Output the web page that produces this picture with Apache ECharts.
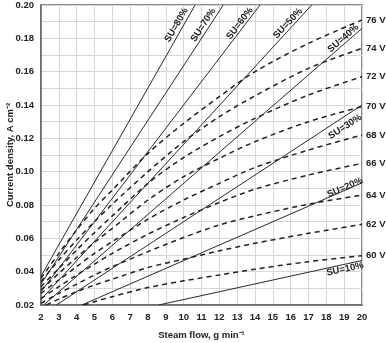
<!DOCTYPE html>
<html><head><meta charset="utf-8">
<script src="https://cdn.jsdelivr.net/npm/echarts@6/dist/echarts.min.js"></script>
<style>html,body{margin:0;padding:0;background:#fff}#c{width:386px;height:343px}</style>
</head><body><div id="c"></div>
<script>
// Steam utilisation lines (solid): [steam flow, current density]
const suNames = ['SU=10%','SU=20%','SU=30%','SU=40%','SU=50%','SU=60%','SU=70%','SU=80%'];
const su10 = [[8.6,0.020],[20,0.0467]];
const su20 = [[4.29,0.020],[20,0.0933]];
const su30 = [[2.86,0.020],[20,0.140]];
const su40 = [[2.15,0.020],[20,0.186]];
const su50 = [[2,0.0233],[17.18,0.200]];
const su60 = [[2,0.0280],[14.28,0.200]];
const su70 = [[2,0.0326],[12.22,0.200]];
const su80 = [[2,0.0373],[10.64,0.200]];
// label anchor points for SU lines
const suLabelPos = [[19.05,0.0415],[19.05,0.0905],[19.05,0.127],[18.95,0.180],[15.85,0.189],[13.15,0.189],[11.1,0.188],[9.6,0.188]];

// Constant voltage lines (dashed)
const vNames = ['60 V','62 V','64 V','66 V','68 V','70 V','72 V','74 V','76 V'];
const v60 = [[4.4,0.020],[5,0.022],[6,0.025],[8,0.0305],[10,0.0345],[12,0.038],[14,0.0415],[17,0.046],[20,0.0496]];
const v62 = [[2.3,0.020],[3,0.0235],[4,0.028],[5,0.032],[6,0.0355],[8,0.0425],[10,0.0475],[12,0.0525],[14,0.057],[17,0.063],[20,0.0684]];
const v64 = [[2,0.021],[3,0.027],[4,0.0325],[5,0.038],[6,0.043],[8,0.052],[10,0.0605],[12,0.068],[14,0.0735],[17,0.0805],[20,0.086]];
const v66 = [[2,0.024],[3,0.031],[4,0.038],[5,0.0445],[6,0.051],[8,0.0625],[10,0.0725],[12,0.0815],[14,0.0895],[17,0.098],[20,0.105]];
const v68 = [[2,0.027],[3,0.035],[4,0.043],[5,0.051],[6,0.058],[8,0.0715],[10,0.083],[12,0.093],[14,0.1025],[17,0.113],[20,0.122]];
const v70 = [[2,0.029],[3,0.039],[4,0.0485],[5,0.0575],[6,0.066],[8,0.083],[10,0.097],[12,0.108],[14,0.118],[17,0.130],[20,0.139]];
const v72 = [[2,0.031],[3,0.042],[4,0.053],[5,0.0635],[6,0.0735],[8,0.093],[10,0.1085],[12,0.121],[14,0.132],[17,0.146],[20,0.157]];
const v74 = [[2,0.034],[3,0.047],[4,0.059],[5,0.070],[6,0.0805],[8,0.100],[10,0.118],[12,0.133],[14,0.1455],[17,0.162],[20,0.174]];
const v76 = [[2,0.036],[3,0.051],[4,0.065],[5,0.078],[6,0.089],[8,0.111],[10,0.129],[12,0.145],[14,0.160],[17,0.177],[20,0.191]];

const suData = [su10,su20,su30,su40,su50,su60,su70,su80];
const vData = [v60,v62,v64,v66,v68,v70,v72,v74,v76];
const suRotate = [12,23.5,33,41,47,52.5,57,60];

const FONT = 'Arial, "Liberation Sans", sans-serif';
const series = [];
suData.forEach((d,i)=>{
  series.push({
    type:'line', data:d, symbol:'none', silent:true,
    lineStyle:{color:'#2a2a2a', width:1},
    markPoint:{
      symbol:'circle', symbolSize:1, silent:true, itemStyle:{color:'rgba(0,0,0,0)'},
      data:[{coord:suLabelPos[i], label:{show:true, position:'inside', formatter:suNames[i], rotate:suRotate[i],
        color:'#222', fontSize:9.5, fontWeight:'bold', fontFamily:FONT}}]
    }
  });
});
vData.forEach((d,i)=>{
  series.push({
    type:'line', data:d, symbol:'none', smooth:0.3, silent:true,
    lineStyle:{color:'#222', width:1.5, type:[5,4]},
    endLabel:{show:true, formatter:vNames[i], color:'#222', fontSize:9.5, fontWeight:'bold', fontFamily:FONT, distance:4}
  });
});

const chart = echarts.init(document.getElementById('c'), null, {renderer:'canvas'});
chart.setOption({
  animation:false,
  grid:{left:41, right:24, top:5, bottom:38, outerBoundsMode:'none', containLabel:false,
    show:true, borderColor:'#666', borderWidth:1.5, backgroundColor:'#fff'},
  xAxis:{type:'value', min:2, max:20, interval:1,
    name:'Steam flow, g min\u207B\u00B9', nameLocation:'middle', nameGap:25, nameMoveOverlap:false,
    nameTextStyle:{color:'#222', fontSize:9.5, fontWeight:'bold', fontFamily:FONT},
    axisLine:{show:true, lineStyle:{color:'#666', width:1.5}}, axisTick:{show:false},
    axisLabel:{color:'#222', fontSize:9.5, fontWeight:'bold', fontFamily:FONT, margin:7},
    splitLine:{show:true, lineStyle:{color:'#d8d8d8', width:1}}},
  yAxis:{type:'value', min:0.02, max:0.20, interval:0.02,
    name:'Current density, A cm\u207B\u00B2', nameLocation:'middle', nameGap:26, nameMoveOverlap:false,
    nameTextStyle:{color:'#222', fontSize:9.5, fontWeight:'bold', fontFamily:FONT},
    axisLine:{show:true, lineStyle:{color:'#666', width:1.5}}, axisTick:{show:false},
    axisLabel:{color:'#222', fontSize:9.5, fontWeight:'bold', fontFamily:FONT, margin:7, formatter:v=>v.toFixed(2)},
    splitLine:{show:true, lineStyle:{color:'#d8d8d8', width:1}},
    minorTick:{show:false, splitNumber:2},
    minorSplitLine:{show:true, lineStyle:{color:'#d8d8d8', width:1}}},
  series:series
});
</script></body></html>
